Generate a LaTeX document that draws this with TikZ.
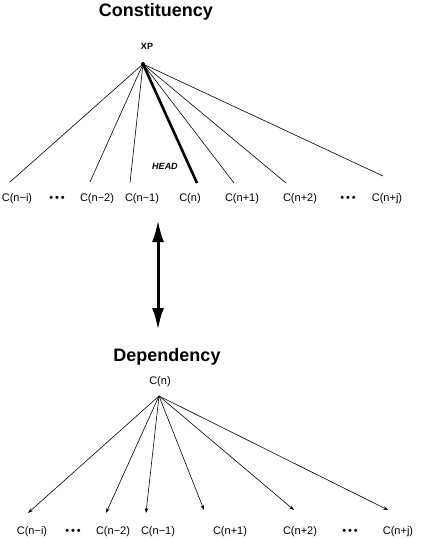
\documentclass[tikz,border=0pt]{standalone}
\usepackage{fontspec}
\setmainfont{Liberation Sans}
\usetikzlibrary{arrows.meta}
\begin{document}
\begin{tikzpicture}[
	  x=1pt, y=-1pt,
	  title/.style={font=\fontsize{18}{20}\selectfont\bfseries, anchor=center},
	  cat/.style={font=\fontsize{11}{12}\selectfont, anchor=center, inner sep=1pt},
	  edge/.style={line width=0.6pt, draw=black},
	  head/.style={line width=2.6pt, draw=black},
	  dep/.style={->, >={Stealth[length=5pt,width=3.5pt]}, line width=0.6pt},
	  swap/.style={<->, >={Latex[length=22pt,width=12pt]}, line width=3pt}]
	  \useasboundingbox (0,0) rectangle (425,539);
	  % constituency tree
	  \node[title] (ctitle) at (156,12) {Constituency};
	  \node[cat, font=\fontsize{9}{10}\selectfont\bfseries] (xp) at (147,46) {XP};
	  \coordinate (xproot) at (143,64);
	  \node[cat] (cni) at (17,199) {C(n−i)};
	  \node[cat] (cdl) at (57,199) {•\,•\,•};
	  \node[cat] (cn2) at (97,199) {C(n−2)};
	  \node[cat] (cn1) at (142,199) {C(n−1)};
	  \node[cat] (cn) at (190,199) {C(n)};
	  \node[cat] (cp1) at (242,199) {C(n+1)};
	  \node[cat] (cp2) at (300,199) {C(n+2)};
	  \node[cat] (cdr) at (348,199) {•\,•\,•};
	  \node[cat] (cpj) at (387,199) {C(n+j)};
	  \coordinate (eni) at (10,182);
	  \coordinate (en2) at (90,182);
	  \coordinate (en1) at (130,183);
	  \coordinate (en) at (197,183);
	  \coordinate (ep1) at (234,183);
	  \coordinate (ep2) at (286,183);
	  \coordinate (epj) at (383,176);
	  \foreach \e in {eni, en2, en1, ep1, ep2, epj}
	    \draw[edge] (xproot) -- (\e);
	  \draw[head] (xproot) -- (en);
	  \node[cat, font=\fontsize{9}{10}\selectfont\bfseries\itshape] (headlbl) at (165,166) {HEAD};
	  \fill (xproot) circle (2pt);
	  % correspondence
	  \coordinate (swaptop) at (158,220);
	  \coordinate (swapbot) at (158,330);
	  \draw[swap] (swaptop) -- (swapbot);
	  % dependency tree
	  \node[title] (dtitle) at (167,357) {Dependency};
	  \node[cat] (dn) at (160,382) {C(n)};
	  \coordinate (dnroot) at (159,396);
	  \node[cat] (dni) at (32,532) {C(n−i)};
	  \node[cat] (ddl) at (73,532) {•\,•\,•};
	  \node[cat] (dn2) at (113,532) {C(n−2)};
	  \node[cat] (dn1) at (158,532) {C(n−1)};
	  \node[cat] (dp1) at (230,532) {C(n+1)};
	  \node[cat] (dp2) at (300,532) {C(n+2)};
	  \node[cat] (ddr) at (350,532) {•\,•\,•};
	  \node[cat] (dpj) at (398,532) {C(n+j)};
	  \coordinate (fni) at (28,513);
	  \coordinate (fn2) at (106,513);
	  \coordinate (fn1) at (146,513);
	  \coordinate (fp1) at (204,510);
	  \coordinate (fp2) at (294,510);
	  \coordinate (fpj) at (388,510);
	  \foreach \e in {fni, fn2, fn1, fp1, fp2, fpj}
	    \draw[dep] (dnroot) -- (\e);
\end{tikzpicture}
\end{document}
